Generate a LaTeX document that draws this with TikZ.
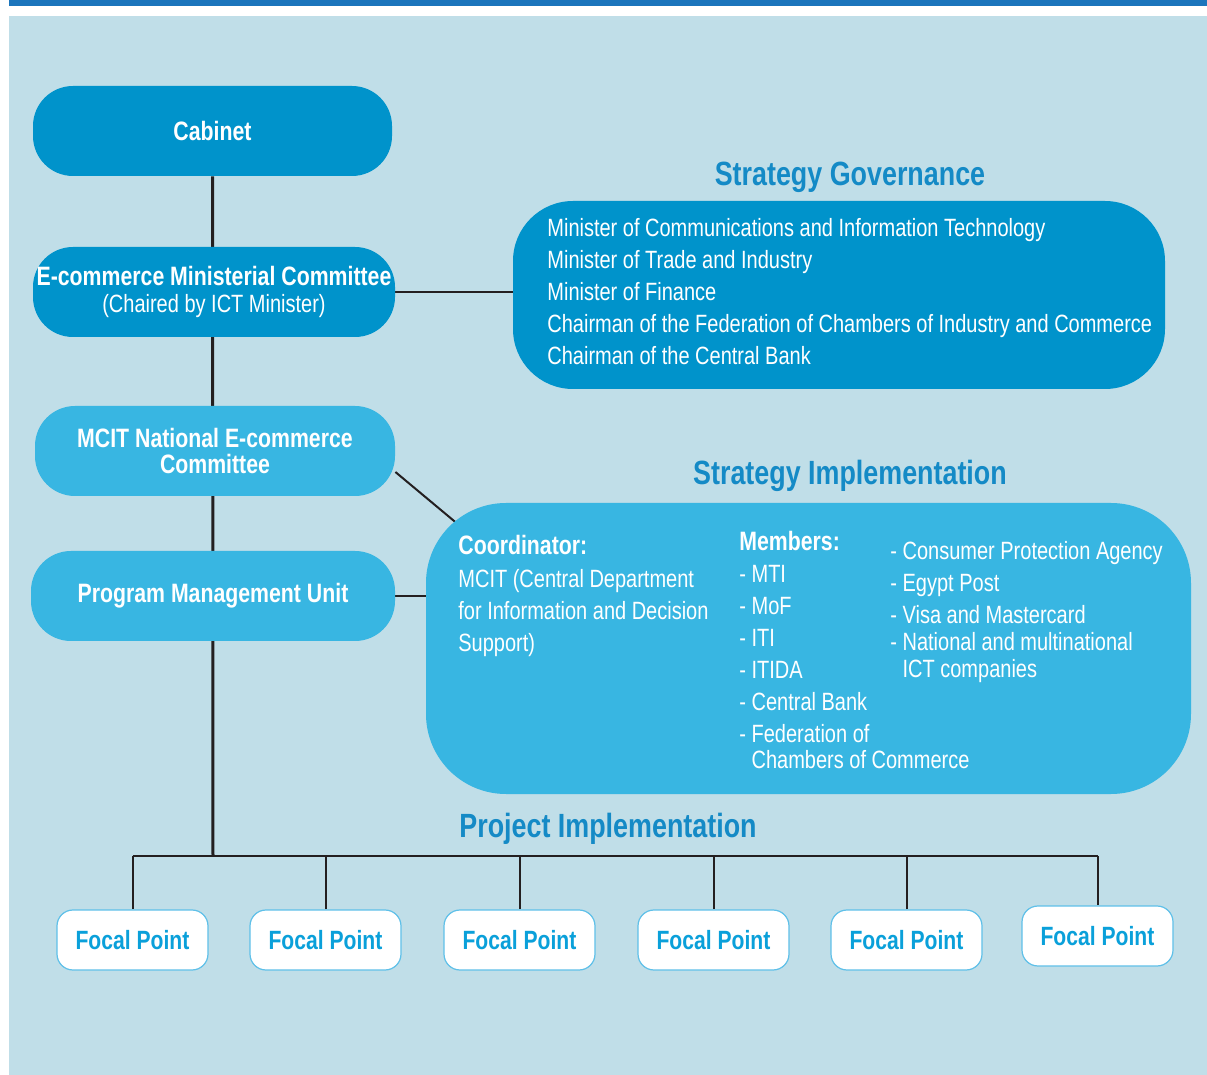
\documentclass[tikz,border=0pt]{standalone}
\usepackage{fontspec}
\setmainfont[FakeStretch=0.80]{Liberation Sans}
\usetikzlibrary{positioning}
\definecolor{bgblue}{RGB}{192,222,232}
\definecolor{topblue}{RGB}{27,117,188}
\definecolor{darkbox}{RGB}{0,147,203}
\definecolor{lightbox}{RGB}{56,182,226}
\definecolor{titleblue}{RGB}{20,138,198}
\definecolor{focalblue}{RGB}{10,160,218}
\definecolor{focalline}{RGB}{95,192,232}
\definecolor{linegray}{RGB}{35,31,32}
\pgfdeclarelayer{back}
\pgfdeclarelayer{lines}
\pgfsetlayers{back,lines,main}
\newcommand{\bt}[1]{{\fontsize{13.3}{14}\selectfont\bfseries #1}}
\tikzset{
	unitbox/.style={rounded corners=20pt, inner sep=0pt, text=white, align=center, font=\fontsize{12.5}{13.5}\selectfont},
	topbox/.style={unitbox, fill=darkbox},
	lowbox/.style={unitbox, fill=lightbox},
	heading/.style={text=titleblue, font=\fontsize{16.8}{18}\selectfont\bfseries},
	bodytext/.style={text=white, align=left, inner sep=0pt, font=\fontsize{12.5}{16}\selectfont},
	focal/.style={draw=focalline, line width=0.6pt, fill=white, rounded corners=8pt, minimum width=75.5pt, minimum height=30pt, text=focalblue, font=\fontsize{13.2}{14}\selectfont\bfseries},
	link/.style={draw=linegray, line width=1pt},
}

\begin{document}
\begin{tikzpicture}[x=0.5pt,y=-0.5pt]
\useasboundingbox (0,0) rectangle (1207,1075);
\begin{pgfonlayer}{back}
\fill[topblue] (9,0) rectangle (1207,6);
\fill[bgblue] (9,16) rectangle (1207,1075);
\end{pgfonlayer}

% left column
\node[topbox, minimum width=179.5pt, minimum height=45pt] (cab) at (212.5,131) {\bt{Cabinet}};
\node[topbox, minimum width=181pt, minimum height=45pt] (emc) at (214,292) {\bt{E-commerce Ministerial Committee}\\(Chaired by ICT Minister)};
\node[lowbox, minimum width=180pt, minimum height=45pt, font=\fontsize{13.3}{13}\selectfont\bfseries] (mcit) at (215,451) {MCIT National E-commerce\\Committee};
\node[lowbox, minimum width=182pt, minimum height=45pt] (pmu) at (213,596) {\bt{Program Management Unit}};

% governance
\node[heading] (govtitle) at (850,177) {Strategy Governance};
\node[topbox, rounded corners=30pt, minimum width=326pt, minimum height=94pt] (gov) at (839,295) {};
\node[bodytext, anchor=west] (govtext) at (547,292) {Minister of Communications and Information Technology\\Minister of Trade and Industry\\Minister of Finance\\Chairman of the Federation of Chambers of Industry and Commerce\\Chairman of the Central Bank};

% implementation
\node[heading] (imptitle) at (850,476) {Strategy Implementation};
\node[lowbox, rounded corners=40pt, minimum width=382.5pt, minimum height=145.5pt] (impl) at (808.5,648.5) {};
\node[bodytext, anchor=west] (coord) at (458,596) {\bt{Coordinator:}\\[0.5pt]MCIT (Central Department\\for Information and Decision\\Support)};
\node[bodytext, anchor=west] (memb) at (739,650) {\bt{Members:}\\- MTI\\- MoF\\- ITI\\- ITIDA\\- Central Bank\\- Federation of\\[-3pt]\phantom{- }Chambers of Commerce};
\node[bodytext, anchor=west] (memb2) at (890,612) {- Consumer Protection Agency\\- Egypt Post\\- Visa and Mastercard\\[-2.5pt]- National and multinational\\[-2.5pt]\phantom{- }ICT companies};

% project level
\node[heading] (projtitle) at (608,829) {Project Implementation};
\node[focal] (f1) at (132.5,940) {Focal Point};
\node[focal] (f2) at (325.5,940) {Focal Point};
\node[focal] (f3) at (519.5,940) {Focal Point};
\node[focal] (f4) at (713.5,940) {Focal Point};
\node[focal] (f5) at (906.5,940) {Focal Point};
\node[focal] (f6) at (1097.5,936) {Focal Point};
\coordinate (spine) at (213,856);

\begin{pgfonlayer}{lines}
\draw[link, line width=1.5pt] (cab) -- (spine);
\draw[link] (emc.east) -- (emc.east -| gov.west);
\draw[link] ([yshift=-10.5pt]mcit.east) -- ([shift={(20pt,-14pt)}]impl.north west);
\draw[link] (pmu.east) -- (pmu.east -| impl.west);
\draw[link, line width=1.2pt] (f1.north |- spine) -- (f6.north |- spine);
\foreach \i in {1,...,6}
	\draw[link] (f\i.north) -- (f\i.north |- spine);
\end{pgfonlayer}
\end{tikzpicture}
\end{document}
